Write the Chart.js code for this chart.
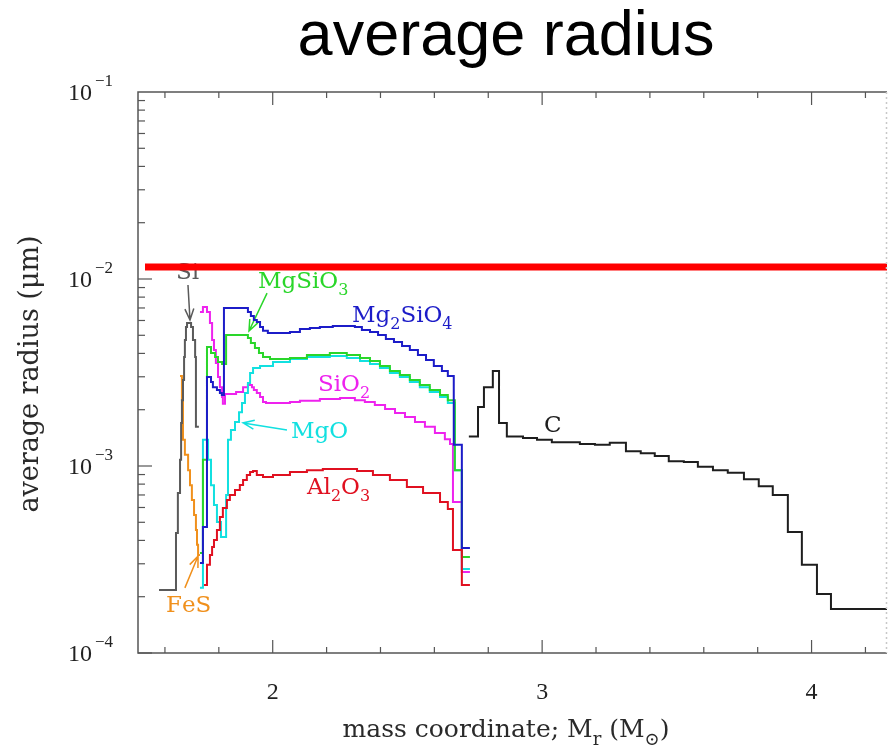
<!DOCTYPE html>
<html>
<head>
<meta charset="utf-8">
<title>average radius</title>
<script src="https://cdn.jsdelivr.net/npm/chart.js@4.4.1/dist/chart.umd.min.js"></script>
<style>
  html, body { margin: 0; padding: 0; background: #fff; }
</style>
</head>
<body>
<canvas id="radius" width="888" height="747"></canvas>
<script>
// values: mass coordinate (Msun) -> average radius (micron), step curves
// each value holds from its mass until the next one
const siMass = [1.578, 1.641, 1.648, 1.656, 1.660, 1.663, 1.667, 1.671, 1.674, 1.678, 1.682, 1.697, 1.704, 1.712, 1.715, 1.726];
const siRadius = [2.17e-4, 4.38e-4, 7.18e-4, 1.08e-3, 1.70e-3, 2.25e-3, 2.88e-3, 3.83e-3, 4.72e-3, 5.53e-3, 5.82e-3, 5.53e-3, 4.72e-3, 3.83e-3, 1.62e-3, 1.62e-3];

const fesMass = [1.656, 1.663, 1.667, 1.674, 1.686, 1.693, 1.700, 1.708, 1.715, 1.719, 1.723, 1.730];
const fesRadius = [3.03e-3, 2.25e-3, 1.38e-3, 1.15e-3, 9.5e-4, 7.9e-4, 6.58e-4, 5.47e-4, 4.55e-4, 3.79e-4, 3.34e-4, 3.34e-4];

const mg2Mass = [1.730, 1.741, 1.756, 1.771, 1.778, 1.793, 1.804, 1.811, 1.819, 1.908, 1.919, 1.930, 1.941, 1.953, 1.964, 1.982, 2.064, 2.101, 2.138, 2.175, 2.223, 2.305, 2.331, 2.361, 2.391, 2.420, 2.450, 2.480, 2.509, 2.539, 2.569, 2.598, 2.628, 2.650, 2.672, 2.702, 2.732];
const mg2Radius = [3.03e-4, 4.72e-4, 2.99e-3, 2.81e-3, 2.64e-3, 2.55e-3, 2.46e-3, 2.40e-3, 7.00e-3, 6.66e-3, 6.34e-3, 6.04e-3, 5.89e-3, 5.54e-3, 5.28e-3, 5.14e-3, 5.21e-3, 5.40e-3, 5.47e-3, 5.54e-3, 5.61e-3, 5.54e-3, 5.34e-3, 5.21e-3, 5.02e-3, 4.78e-3, 4.60e-3, 4.38e-3, 4.17e-3, 3.92e-3, 3.69e-3, 3.43e-3, 3.22e-3, 3.03e-3, 1.30e-3, 3.64e-4, 3.64e-4];

const mgsMass = [1.730, 1.741, 1.756, 1.771, 1.786, 1.797, 1.812, 1.827, 1.908, 1.919, 1.934, 1.949, 1.964, 1.990, 2.064, 2.127, 2.212, 2.275, 2.324, 2.361, 2.398, 2.435, 2.472, 2.509, 2.546, 2.583, 2.621, 2.650, 2.676, 2.702, 2.732];
const mgsRadius = [3.43e-4, 1.08e-3, 4.33e-3, 4.02e-3, 3.83e-3, 3.60e-3, 3.51e-3, 5.02e-3, 4.84e-3, 4.55e-3, 4.28e-3, 4.02e-3, 3.83e-3, 3.73e-3, 3.78e-3, 3.92e-3, 4.02e-3, 3.92e-3, 3.78e-3, 3.64e-3, 3.43e-3, 3.22e-3, 3.07e-3, 2.88e-3, 2.71e-3, 2.55e-3, 2.40e-3, 2.25e-3, 9.5e-4, 3.26e-4, 3.26e-4];

const mgoMass = [1.730, 1.741, 1.760, 1.771, 1.782, 1.793, 1.808, 1.827, 1.834, 1.845, 1.860, 1.875, 1.886, 1.897, 1.908, 1.916, 1.927, 1.953, 2.001, 2.064, 2.127, 2.212, 2.275, 2.324, 2.361, 2.398, 2.435, 2.472, 2.509, 2.546, 2.583, 2.621, 2.650, 2.676, 2.702, 2.732];
const mgoRadius = [2.23e-4, 1.38e-3, 1.08e-3, 7.9e-4, 6.19e-4, 5.02e-4, 4.17e-4, 7.0e-4, 1.38e-3, 1.56e-3, 1.72e-3, 1.94e-3, 2.17e-3, 2.46e-3, 2.78e-3, 3.14e-3, 3.34e-3, 3.43e-3, 3.60e-3, 3.73e-3, 3.83e-3, 3.87e-3, 3.78e-3, 3.64e-3, 3.51e-3, 3.34e-3, 3.14e-3, 2.99e-3, 2.81e-3, 2.64e-3, 2.49e-3, 2.34e-3, 2.17e-3, 9.5e-4, 2.81e-4, 2.81e-4];

const sioMass = [1.730, 1.741, 1.756, 1.767, 1.775, 1.782, 1.789, 1.797, 1.804, 1.812, 1.815, 1.823, 1.864, 1.890, 1.908, 1.923, 1.930, 1.941, 1.953, 1.964, 1.975, 2.064, 2.101, 2.175, 2.250, 2.305, 2.342, 2.379, 2.417, 2.454, 2.491, 2.528, 2.565, 2.602, 2.639, 2.658, 2.669, 2.702, 2.732];
const sioRadius = [6.66e-3, 7.09e-3, 6.66e-3, 5.82e-3, 4.72e-3, 4.17e-3, 3.56e-3, 2.99e-3, 2.64e-3, 2.34e-3, 2.15e-3, 2.43e-3, 2.49e-3, 2.64e-3, 2.71e-3, 2.64e-3, 2.55e-3, 2.46e-3, 2.34e-3, 2.20e-3, 2.17e-3, 2.20e-3, 2.23e-3, 2.28e-3, 2.31e-3, 2.25e-3, 2.20e-3, 2.12e-3, 2.02e-3, 1.92e-3, 1.83e-3, 1.72e-3, 1.62e-3, 1.50e-3, 1.39e-3, 1.31e-3, 6.42e-4, 2.71e-4, 2.71e-4];

const aloMass = [1.745, 1.756, 1.767, 1.775, 1.782, 1.793, 1.804, 1.815, 1.830, 1.841, 1.860, 1.878, 1.890, 1.904, 1.916, 1.927, 1.941, 1.964, 2.001, 2.064, 2.127, 2.186, 2.250, 2.313, 2.372, 2.435, 2.498, 2.558, 2.621, 2.650, 2.669, 2.702, 2.732];
const aloRadius = [2.31e-4, 2.96e-4, 3.34e-4, 3.69e-4, 4.02e-4, 4.55e-4, 5.34e-4, 5.96e-4, 6.58e-4, 7.00e-4, 7.44e-4, 7.91e-4, 8.41e-4, 8.95e-4, 9.3e-4, 9.4e-4, 8.95e-4, 8.73e-4, 8.95e-4, 9.3e-4, 9.5e-4, 9.64e-4, 9.64e-4, 9.4e-4, 8.95e-4, 8.41e-4, 7.72e-4, 7.17e-4, 6.42e-4, 5.89e-4, 3.56e-4, 2.31e-4, 2.31e-4];

const cMass = [2.728, 2.762, 2.784, 2.817, 2.840, 2.869, 2.929, 2.981, 3.036, 3.092, 3.140, 3.196, 3.251, 3.311, 3.366, 3.418, 3.470, 3.526, 3.578, 3.634, 3.689, 3.749, 3.804, 3.856, 3.912, 3.964, 4.020, 4.072, 4.283];
const cRadius = [1.44e-3, 2.07e-3, 2.64e-3, 3.22e-3, 1.70e-3, 1.44e-3, 1.41e-3, 1.38e-3, 1.34e-3, 1.34e-3, 1.31e-3, 1.30e-3, 1.33e-3, 1.20e-3, 1.17e-3, 1.13e-3, 1.06e-3, 1.05e-3, 9.9e-4, 9.5e-4, 9.2e-4, 8.5e-4, 7.8e-4, 7.0e-4, 4.44e-4, 2.96e-4, 2.07e-4, 1.72e-4, 1.72e-4];

// the thick red horizontal marker
const redLineMass = [1.526, 4.29];
const redLineRadius = [1.16e-2, 1.16e-2];

// axes
const xTicks = [2, 3, 4];
const yTicks = [1e-4, 1e-3, 1e-2, 1e-1];
const yTickPowers = ['\u22124', '\u22123', '\u22122', '\u22121'];

// curve labels ("_" puts the next character in subscript), placed at left/baseline
const labelText = ['Si', 'MgSiO_3', 'Mg_2SiO_4', 'SiO_2', 'MgO', 'C', 'Al_2O_3', 'FeS'];
const labelMass = [1.641, 1.945, 2.294, 2.168, 2.068, 3.007, 2.127, 1.604];
const labelRadius = [1.0e-2, 8.95e-3, 5.89e-3, 2.52e-3, 1.41e-3, 1.52e-3, 7.08e-4, 1.66e-4];

// arrows from label to curve
const arrowTailMass = [1.6855, 1.979, 2.053, 1.674];
const arrowTailRadius = [9.29e-3, 8.41e-3, 1.56e-3, 2.23e-4];
const arrowTipMass = [1.693, 1.912, 1.890, 1.723];
const arrowTipRadius = [6.04e-3, 5.27e-3, 1.70e-3, 3.30e-4];

const col = {
    si: '#5a5a5a', fes: '#f0901c', mg2: '#1c1cc8', mgs: '#2ad62a',
    mgo: '#12e0e0', sio: '#ee22ee', alo: '#e01020', c: '#1e1e1e', red: '#ff0000'
};
const labelColor = [col.si, col.mgs, col.mg2, col.sio, col.mgo, col.c, col.alo, col.fes];
const arrowColor = [col.si, col.mgs, col.mgo, col.fes];

function pts(xs, ys) {
    return xs.map((x, i) => ({ x: x, y: ys[i] }));
}

// text with subscripts, char by char
function richText(ctx, str, x, y, size, family) {
    let cx = x;
    let sub = false;
    for (const ch of str) {
        if (ch === '_') { sub = true; continue; }
        ctx.font = (sub ? Math.round(size * 0.7) : size) + 'px ' + family;
        ctx.fillText(ch, cx, sub ? y + size * 0.3 : y);
        cx += ctx.measureText(ch).width;
        sub = false;
    }
    return cx - x;
}
function richWidth(ctx, str, size, family) {
    let w = 0, sub = false;
    for (const ch of str) {
        if (ch === '_') { sub = true; continue; }
        ctx.font = (sub ? Math.round(size * 0.7) : size) + 'px ' + family;
        w += ctx.measureText(ch).width;
        sub = false;
    }
    return w;
}

function arrow(ctx, x0, y0, x1, y1, color) {
    const a = Math.atan2(y1 - y0, x1 - x0), h = 12, s = 0.38;
    ctx.strokeStyle = color;
    ctx.lineWidth = 1.5;
    ctx.beginPath();
    ctx.moveTo(x0, y0);
    ctx.lineTo(x1, y1);
    ctx.moveTo(x1 - h * Math.cos(a - s), y1 - h * Math.sin(a - s));
    ctx.lineTo(x1, y1);
    ctx.lineTo(x1 - h * Math.cos(a + s), y1 - h * Math.sin(a + s));
    ctx.stroke();
}

const serif = '"DejaVu Serif", serif';
const tickFont = '"Liberation Serif", serif';

const decor = {
    id: 'decor',
    beforeDatasetsDraw(chart) {
        const ctx = chart.ctx, sx = chart.scales.x, sy = chart.scales.y;
        ctx.save();
        // labels + arrows under the curves so the red marker covers "Si"
        ctx.textBaseline = 'alphabetic';
        ctx.textAlign = 'left';
        labelText.forEach((t, i) => {
            ctx.fillStyle = labelColor[i];
            richText(ctx, t, sx.getPixelForValue(labelMass[i]), sy.getPixelForValue(labelRadius[i]), 23, serif);
        });
        arrowTailMass.forEach((m, i) => {
            arrow(ctx, sx.getPixelForValue(m), sy.getPixelForValue(arrowTailRadius[i]),
                sx.getPixelForValue(arrowTipMass[i]), sy.getPixelForValue(arrowTipRadius[i]), arrowColor[i]);
        });
        ctx.restore();
    },
    afterDraw(chart) {
        const ctx = chart.ctx, sx = chart.scales.x, sy = chart.scales.y;
        const a = chart.chartArea;
        ctx.save();
        // frame
        ctx.strokeStyle = '#555';
        ctx.lineWidth = 1.5;
        ctx.beginPath();
        ctx.moveTo(a.right, a.top); ctx.lineTo(a.left, a.top);
        ctx.lineTo(a.left, a.bottom); ctx.lineTo(a.right, a.bottom);
        ctx.stroke();
        ctx.setLineDash([2, 3]);
        ctx.strokeStyle = '#c8c8c8';
        ctx.beginPath();
        ctx.moveTo(a.right - 0.5, a.top); ctx.lineTo(a.right - 0.5, a.bottom);
        ctx.stroke();
        ctx.setLineDash([]);

        // x ticks, bottom and top, every 0.2
        ctx.strokeStyle = '#555';
        ctx.lineWidth = 1.2;
        for (let k = 8; k <= 21; k++) {
            const v = k / 5;
            const px = sx.getPixelForValue(v);
            const len = xTicks.includes(v) ? 13 : 6;
            ctx.beginPath();
            ctx.moveTo(px, a.bottom); ctx.lineTo(px, a.bottom - len);
            ctx.moveTo(px, a.top); ctx.lineTo(px, a.top + len);
            ctx.stroke();
        }
        // y ticks, log minor
        for (let d = -4; d <= -2; d++) {
            for (let m = 1; m <= 9; m++) {
                const py = sy.getPixelForValue(m * Math.pow(10, d));
                const len = m === 1 ? 14 : 7;
                ctx.beginPath();
                ctx.moveTo(a.left, py); ctx.lineTo(a.left + len, py);
                ctx.stroke();
            }
        }

        // tick labels
        ctx.fillStyle = '#222';
        ctx.textAlign = 'center';
        ctx.textBaseline = 'alphabetic';
        ctx.font = '24px ' + tickFont;
        xTicks.forEach(v => ctx.fillText(String(v), sx.getPixelForValue(v), a.bottom + 46));
        ctx.textAlign = 'left';
        yTicks.forEach((v, i) => {
            const py = sy.getPixelForValue(v);
            ctx.font = '24px ' + tickFont;
            ctx.fillText('10', 68, py + 8);
            const w = ctx.measureText('10').width;
            ctx.font = '17px ' + tickFont;
            ctx.fillText(yTickPowers[i], 68 + w + 3, py - 6);
        });

        // axis titles
        ctx.fillStyle = '#2a2a2a';
        const xt = 'mass coordinate; M_r (M_\u2299)';
        const xw = richWidth(ctx, xt, 25, serif);
        richText(ctx, xt, 506 - xw / 2, 737, 25, serif);
        ctx.save();
        ctx.translate(38, 374);
        ctx.rotate(-Math.PI / 2);
        ctx.font = '27px ' + serif;
        ctx.textAlign = 'center';
        ctx.fillText('average radius (\u03bcm)', 0, 0);
        ctx.restore();

        // main title
        ctx.fillStyle = '#000';
        ctx.textAlign = 'center';
        ctx.font = '63px "Liberation Sans", Arial, sans-serif';
        ctx.fillText('average radius', 506, 55);
        ctx.restore();
    }
};

function series(label, xs, ys, color, width) {
    return {
        label: label,
        data: pts(xs, ys),
        borderColor: color,
        borderWidth: width || 2,
        stepped: 'before',
        fill: false
    };
}

new Chart(document.getElementById('radius'), {
    type: 'line',
    data: {
        datasets: [
            { label: 'limit', data: pts(redLineMass, redLineRadius), borderColor: col.red, borderWidth: 7, fill: false },
            series('Si', siMass, siRadius, col.si),
            series('FeS', fesMass, fesRadius, col.fes),
            series('Al2O3', aloMass, aloRadius, col.alo),
            series('Mg2SiO4', mg2Mass, mg2Radius, col.mg2),
            series('MgSiO3', mgsMass, mgsRadius, col.mgs),
            series('MgO', mgoMass, mgoRadius, col.mgo),
            series('SiO2', sioMass, sioRadius, col.sio),
            series('C', cMass, cRadius, col.c)
        ]
    },
    options: {
        responsive: false,
        animation: false,
        devicePixelRatio: 1,
        layout: { padding: { left: 138, top: 92, right: 1, bottom: 94 } },
        elements: { point: { radius: 0 }, line: { tension: 0 } },
        plugins: { legend: { display: false }, tooltip: { enabled: false }, title: { display: false } },
        scales: {
            x: { type: 'linear', min: 1.5, max: 4.28, display: false },
            y: { type: 'logarithmic', min: 1e-4, max: 1e-1, display: false }
        }
    },
    plugins: [decor]
});
</script>
</body>
</html>
